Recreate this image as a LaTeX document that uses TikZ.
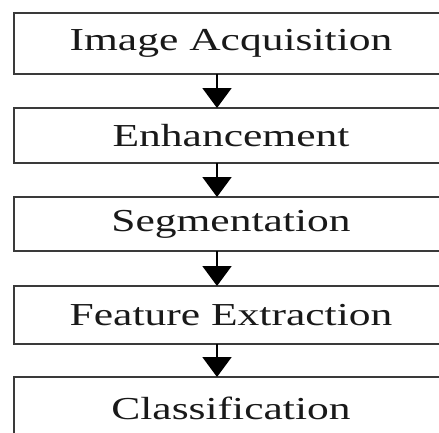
\documentclass[tikz,border=0pt]{standalone}
\usepackage{fontspec}
\setmainfont{Liberation Serif}
\usetikzlibrary{arrows.meta}
\definecolor{edge}{HTML}{3A3A3A}
\tikzset{
  stage/.style={draw=edge, line width=2.4pt, inner sep=0pt, outer sep=0pt,
    font=\fontsize{32}{36}\selectfont, text=black!90},
  flow/.style={line width=2pt, draw=black, -{Triangle[width=29pt,length=20pt]}}
}
\newcommand{\stretchtxt}[1]{\scalebox{1.36}[1]{#1}}
\begin{document}
\begin{tikzpicture}
\fill[white] (0pt,0pt) rectangle (439pt,-432pt);
\useasboundingbox (0pt,0pt) rectangle (439pt,-432pt);
\node[stage, minimum width=434pt, minimum height=61pt] (a) at (231pt,-43.5pt) {\stretchtxt{Image Acquisition}};
\node[stage, minimum width=434pt, minimum height=55pt] (b) at (231pt,-135.5pt) {\stretchtxt{Enhancement}};
\node[stage, minimum width=434pt, minimum height=54pt] (c) at (231pt,-224pt) {\stretchtxt{Segmentation}};
\node[stage, minimum width=434pt, minimum height=58pt] (d) at (231pt,-315pt) {\stretchtxt{Feature Extraction}};
\node[stage, minimum width=434pt, minimum height=63pt] (e) at (231pt,-408.5pt) {\stretchtxt{Classification}};
\coordinate (ax) at (217pt,0pt);
\draw[flow] (a.south -| ax) -- (b.north -| ax);
\draw[flow] (b.south -| ax) -- (c.north -| ax);
\draw[flow] (c.south -| ax) -- (d.north -| ax);
\draw[flow] (d.south -| ax) -- (e.north -| ax);
\end{tikzpicture}
\end{document}
